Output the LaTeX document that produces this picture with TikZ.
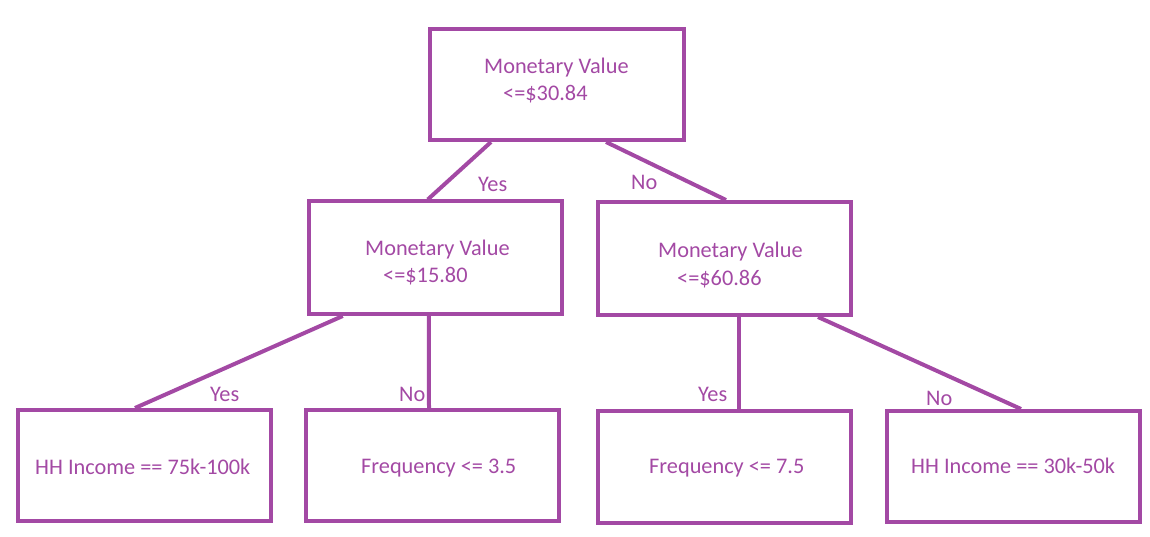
\documentclass[tikz,border=0pt]{standalone}
\usepackage{fontspec}
\setmainfont{Carlito}
\usetikzlibrary{calc}
\definecolor{pp}{RGB}{163,73,164}
\begin{document}
\begin{tikzpicture}[x=1pt,y=-1pt,
  box/.style={draw=pp,line width=4pt,inner sep=0pt,minimum width=253pt},
  conn/.style={draw=pp,line width=4pt},
  txt/.style={text=pp,font=\fontsize{22.3}{25}\selectfont,anchor=base west,inner sep=0pt}]
\useasboundingbox (0,0) rectangle (1150,537);
% boxes
\node[box,minimum width=254.5pt,minimum height=111pt] (top) at (556.75,84.5) {};
\node[box,minimum height=112.5pt] (ML) at (435.25,257.75) {};
\node[box,minimum height=113pt] (MR) at (724.5,258.5) {};
\node[box,minimum height=111pt] (BL) at (144.5,465.5) {};
\node[box,minimum height=111pt] (BM) at (432.5,465.5) {};
\node[box,minimum height=112pt] (BR1) at (724.5,467) {};
\node[box,minimum height=111pt] (BR2) at (1013.5,466.5) {};
% connectors
\draw[conn] ($(top.south west)+(63.5,0)$) -- ($(ML.north west)+(121,0)$);
\draw[conn] ($(top.south west)+(178.5,0)$) -- ($(MR.north west)+(130,0)$);
\draw[conn] ($(ML.south west)+(36,0)$) -- ($(BL.north west)+(119,0)$);
\draw[conn] ($(ML.south west)+(122,0)$) -- ($(BM.north west)+(125,0)$);
\draw[conn] ($(MR.south west)+(143,0)$) -- ($(BR1.north west)+(143,0)$);
\draw[conn] ($(MR.south west)+(222,0)$) -- ($(BR2.north west)+(136,0)$);
% box texts
\node[txt] (t1a) at (484,74) {Monetary Value};
\node[txt] (t1b) at (503,101) {<=\$30.84};
\node[txt] (t2a) at (365,255) {Monetary Value};
\node[txt] (t2b) at (383,282) {<=\$15.80};
\node[txt] (t3a) at (658,258) {Monetary Value};
\node[txt] (t3b) at (677,285) {<=\$60.86};
\node[txt] (t4) at (35,474) {HH Income == 75k-100k};
\node[txt] (t5) at (361,473) {Frequency <= 3.5};
\node[txt] (t6) at (649,473) {Frequency <= 7.5};
\node[txt] (t7) at (911,473) {HH Income == 30k-50k};
% edge labels
\node[txt] (l1) at (478,192) {Yes};
\node[txt] (l2) at (631,190) {No};
\node[txt] (l3) at (210,401) {Yes};
\node[txt] (l4) at (399,401) {No};
\node[txt] (l5) at (698,401) {Yes};
\node[txt] (l6) at (926,405) {No};
\end{tikzpicture}
\end{document}
